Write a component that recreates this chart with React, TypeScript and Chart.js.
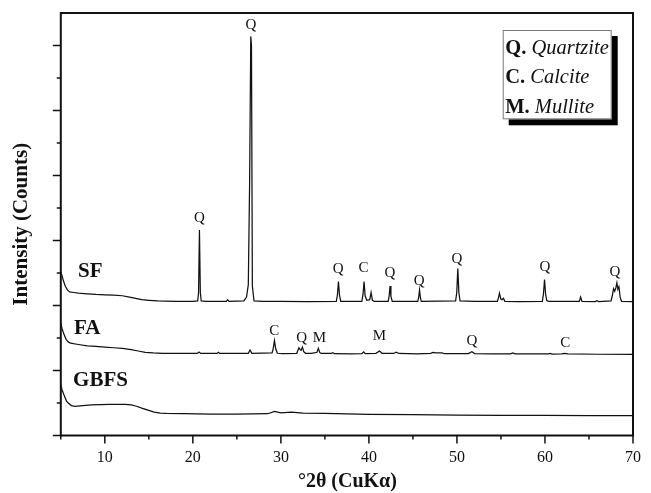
import { useEffect, useRef } from "react";
import { Chart, registerables } from "chart.js";

Chart.register(...registerables);

// ---- data ----
const SF_2THETA = [
  5.0, 5.15, 5.3, 5.5, 5.75, 6.0, 6.5, 7.0, 8.0, 9.0, 10.0, 11.0, 12.0, 12.8, 13.5, 14.2, 15.0, 16.0, 18.0, 20.0,
  20.55, 20.65, 20.75, 20.85, 20.95, 21.5, 23.8, 23.95, 24.1, 25.8, 26.1, 26.3, 26.45, 26.58, 26.66, 26.76, 26.95,
  28.0, 30.0, 33.0, 36.3, 36.42, 36.54, 36.66, 36.8, 39.2, 39.33, 39.45, 39.57, 39.75, 40.1, 40.25, 40.4, 40.6,
  42.2, 42.3, 42.4, 42.5, 42.65, 45.55, 45.65, 45.75, 45.85, 45.95, 49.85, 49.98, 50.1, 50.22, 50.35, 52.0,
  54.6, 54.72, 54.83, 54.98, 55.12, 55.28, 55.45, 57.0, 59.7, 59.83, 59.95, 60.07, 60.2, 60.4, 63.9, 64.05, 64.2,
  65.7, 65.9, 66.1, 67.5, 67.65, 67.79, 67.92, 68.05, 68.17, 68.28, 68.4, 68.55, 68.7, 70.0,
];
const SF_COUNTS = [
  2.52, 2.45, 2.38, 2.3, 2.24, 2.21, 2.2, 2.19, 2.18, 2.17, 2.165, 2.16, 2.15, 2.13, 2.11, 2.09, 2.08, 2.07, 2.065, 2.065,
  2.07, 2.2, 3.16, 2.2, 2.07, 2.065, 2.065, 2.09, 2.065, 2.07, 2.13, 2.32, 3.9, 6.14, 6.0, 2.3, 2.07,
  2.065, 2.065, 2.06, 2.065, 2.16, 2.37, 2.16, 2.065, 2.065, 2.17, 2.37, 2.15, 2.08, 2.09, 2.2, 2.08, 2.065,
  2.065, 2.15, 2.3, 2.14, 2.065, 2.065, 2.12, 2.24, 2.12, 2.065, 2.07, 2.2, 2.57, 2.2, 2.07, 2.065,
  2.065, 2.12, 2.19, 2.1, 2.09, 2.11, 2.065, 2.06, 2.065, 2.18, 2.4, 2.18, 2.075, 2.065, 2.065, 2.13, 2.065,
  2.06, 2.075, 2.06, 2.07, 2.15, 2.26, 2.22, 2.27, 2.35, 2.25, 2.29, 2.12, 2.065, 2.06,
];

const FA_2THETA = [
  5.0, 5.15, 5.35, 5.6, 5.85, 6.1, 7.0, 8.0, 9.0, 10.0, 11.0, 12.0, 13.0, 13.8, 14.6, 15.5, 16.5, 20.5, 20.7, 20.9,
  22.75, 22.9, 23.05, 26.3, 26.5, 26.7, 29.0, 29.12, 29.27, 29.42, 29.6, 30.2, 31.8, 32.05, 32.2, 32.3, 32.45,
  32.6, 32.8, 33.5, 34.1, 34.26, 34.42, 34.6, 35.7, 35.9, 36.1, 38.0, 39.2, 39.4, 39.6, 40.8, 41.2, 41.5, 42.8,
  43.1, 43.4, 45.5, 47.0, 47.3, 47.6, 48.3, 48.6, 51.3, 51.7, 52.0, 54.0, 56.1, 56.35, 56.6, 60.4, 60.6, 60.8,
  61.9, 62.2, 62.6, 66.0, 70.0,
];
const FA_COUNTS = [
  1.73, 1.64, 1.56, 1.48, 1.44, 1.42, 1.4, 1.38, 1.37, 1.36, 1.35, 1.34, 1.32, 1.3, 1.28, 1.27, 1.265, 1.262, 1.285, 1.262,
  1.262, 1.28, 1.262, 1.265, 1.315, 1.265, 1.27, 1.33, 1.46, 1.33, 1.265, 1.26, 1.265, 1.35, 1.32, 1.31, 1.36,
  1.29, 1.265, 1.262, 1.28, 1.34, 1.275, 1.262, 1.262, 1.275, 1.258, 1.255, 1.26, 1.285, 1.26, 1.265, 1.3, 1.265, 1.262,
  1.28, 1.262, 1.255, 1.265, 1.28, 1.27, 1.27, 1.258, 1.26, 1.29, 1.26, 1.255, 1.255, 1.27, 1.255, 1.255, 1.262, 1.252,
  1.256, 1.265, 1.255, 1.25, 1.248,
];

const GBFS_2THETA = [
  5.0, 5.15, 5.4, 5.65, 5.85, 6.2, 6.6, 7.5, 8.5, 9.5, 10.5, 11.5, 12.3, 13.0, 13.6, 14.2, 14.9, 15.6, 16.3, 17.0,
  19.0, 22.0, 25.0, 28.5, 29.3, 30.0, 31.2, 32.5, 35.0, 40.0, 45.0, 50.0, 55.0, 60.0, 65.0, 70.0,
];
const GBFS_COUNTS = [
  0.78, 0.7, 0.61, 0.53, 0.5, 0.46, 0.45, 0.46, 0.47, 0.475, 0.48, 0.48, 0.48, 0.47, 0.45, 0.42, 0.39, 0.36, 0.345, 0.34,
  0.335, 0.33, 0.33, 0.335, 0.37, 0.35, 0.36, 0.345, 0.34, 0.325, 0.32, 0.315, 0.31, 0.31, 0.305, 0.305,
];

// peak annotations
const PEAK_LETTERS = ["Q", "Q", "Q", "C", "Q", "Q", "Q", "Q", "Q", "C", "Q", "M", "M", "Q", "C"];
const PEAK_2THETA = [20.75, 26.6, 36.5, 39.38, 42.4, 45.7, 50.0, 60.0, 67.95, 29.26, 32.37, 34.37, 41.19, 51.69, 62.3];
const PEAK_LEVEL = [3.35, 6.32, 2.56, 2.58, 2.5, 2.37, 2.72, 2.59, 2.52, 1.61, 1.5, 1.5, 1.53, 1.46, 1.42];

// sample names
const SERIES_NAMES = ["SF", "FA", "GBFS"];
const NAME_2THETA = [6.95, 6.5, 6.4];
const NAME_LEVEL = [2.52, 1.65, 0.85];

// legend of phases
const LEGEND_CODES = ["Q.", "C.", "M."];
const LEGEND_NAMES = ["Quartzite", "Calcite", "Mullite"];

const X_MAJOR = [10, 20, 30, 40, 50, 60, 70];
const X_MINOR = [5, 15, 25, 35, 45, 55, 65];
const Y_MAJOR = [0, 1, 2, 3, 4, 5, 6];
const Y_MINOR = [0.5, 1.5, 2.5, 3.5, 4.5, 5.5];

const SERIF = "'Liberation Serif', 'Times New Roman', serif";
const INK = "#111";

const pts = (xs: number[], ys: number[]) => xs.map((x, i) => ({ x, y: ys[i] }));

const decorPlugin = {
  id: "decor",
  afterDraw(chart: any) {
    const { ctx, chartArea: a, scales } = chart;
    const xs = scales.x;
    const ys = scales.y;
    ctx.save();
    ctx.strokeStyle = INK;
    ctx.fillStyle = INK;

    // frame
    ctx.lineWidth = 2;
    ctx.beginPath();
    ctx.rect(a.left, a.top, a.right - a.left, a.bottom - a.top);
    ctx.stroke();

    // ticks
    ctx.lineWidth = 1.5;
    ctx.beginPath();
    X_MAJOR.forEach((v) => {
      const p = xs.getPixelForValue(v);
      ctx.moveTo(p, a.bottom);
      ctx.lineTo(p, a.bottom + 8);
    });
    X_MINOR.forEach((v) => {
      const p = xs.getPixelForValue(v);
      ctx.moveTo(p, a.bottom);
      ctx.lineTo(p, a.bottom + 4);
    });
    Y_MAJOR.forEach((v) => {
      const p = ys.getPixelForValue(v);
      ctx.moveTo(a.left, p);
      ctx.lineTo(a.left - 8, p);
    });
    Y_MINOR.forEach((v) => {
      const p = ys.getPixelForValue(v);
      ctx.moveTo(a.left, p);
      ctx.lineTo(a.left - 4, p);
    });
    ctx.stroke();

    // peak letters
    ctx.font = `15px ${SERIF}`;
    ctx.textAlign = "center";
    ctx.textBaseline = "middle";
    PEAK_LETTERS.forEach((l, i) => {
      ctx.fillText(l, xs.getPixelForValue(PEAK_2THETA[i]), ys.getPixelForValue(PEAK_LEVEL[i]));
    });

    // sample names
    ctx.font = `bold 21px ${SERIF}`;
    ctx.textAlign = "left";
    SERIES_NAMES.forEach((n, i) => {
      ctx.fillText(n, xs.getPixelForValue(NAME_2THETA[i]), ys.getPixelForValue(NAME_LEVEL[i]));
    });

    // legend box with shadow
    const bw = 109;
    const bh = 89.3;
    const bx = a.right - 21.3 - bw;
    const by = a.top + 17;
    ctx.fillStyle = "#000";
    ctx.fillRect(bx + 6, by + 6, bw, bh);
    ctx.fillStyle = "#fff";
    ctx.fillRect(bx, by, bw, bh);
    ctx.strokeStyle = "#777";
    ctx.lineWidth = 1;
    ctx.strokeRect(bx + 0.5, by + 0.5, bw - 1, bh - 1);
    ctx.fillStyle = INK;
    ctx.textBaseline = "middle";
    LEGEND_CODES.forEach((c, i) => {
      const ty = by + 18.3 + i * 29.5;
      ctx.font = `bold 20.5px ${SERIF}`;
      ctx.fillText(c, bx + 2.5, ty);
      const w = ctx.measureText(c + " ").width;
      ctx.font = `italic 20.5px ${SERIF}`;
      ctx.fillText(LEGEND_NAMES[i], bx + 2.5 + w, ty);
    });

    // axis titles
    ctx.font = `bold 20px ${SERIF}`;
    ctx.textAlign = "center";
    ctx.fillText("°2θ (CuKα)", (a.left + a.right) / 2 + 0.5, 482);
    ctx.save();
    ctx.translate(22, (a.top + a.bottom) / 2);
    ctx.rotate(-Math.PI / 2);
    ctx.font = `bold 21px ${SERIF}`;
    ctx.fillText("Intensity (Counts)", 0, 0);
    ctx.restore();

    ctx.restore();
  },
};

export default function App() {
  const ref = useRef<HTMLCanvasElement | null>(null);
  useEffect(() => {
    if (!ref.current) return;
    const line = (label: string, data: any) => ({
      label,
      data,
      borderColor: INK,
      borderWidth: 1.25,
      pointRadius: 0,
      tension: 0,
      fill: false,
    });
    const chart = new Chart(ref.current, {
      type: "line",
      data: {
        datasets: [
          line("SF", pts(SF_2THETA, SF_COUNTS)),
          line("FA", pts(FA_2THETA, FA_COUNTS)),
          line("GBFS", pts(GBFS_2THETA, GBFS_COUNTS)),
        ],
      },
      options: {
        responsive: false,
        animation: false,
        events: [],
        layout: { padding: { left: 0, top: 13, right: 18, bottom: 0 } },
        plugins: { legend: { display: false }, tooltip: { enabled: false } },
        scales: {
          x: {
            type: "linear",
            min: 5,
            max: 70,
            afterFit: (s: any) => {
              s.height = 57.5;
            },
            grid: {
              display: true,
              drawOnChartArea: false,
              drawTicks: true,
              tickLength: 11,
              tickColor: "rgba(0,0,0,0)",
            },
            border: { display: false },
            ticks: {
              stepSize: 10,
              autoSkip: false,
              maxRotation: 0,
              padding: 2,
              color: INK,
              font: { family: SERIF, size: 16 },
              callback: (v: any) => (Number(v) % 10 === 0 ? String(v) : ""),
            },
          },
          y: {
            min: 0,
            max: 6.5,
            afterFit: (s: any) => {
              s.width = 60.8;
            },
            grid: { display: false, drawTicks: false },
            border: { display: false },
            ticks: { display: false },
          },
        },
      },
      plugins: [decorPlugin],
    });
    return () => chart.destroy();
  }, []);
  return (
    <div style={{ position: "absolute", left: 0, top: 0, width: 651, height: 493, background: "#fff" }}>
      <canvas ref={ref} width={651} height={493} style={{ display: "block" }} />
    </div>
  );
}
